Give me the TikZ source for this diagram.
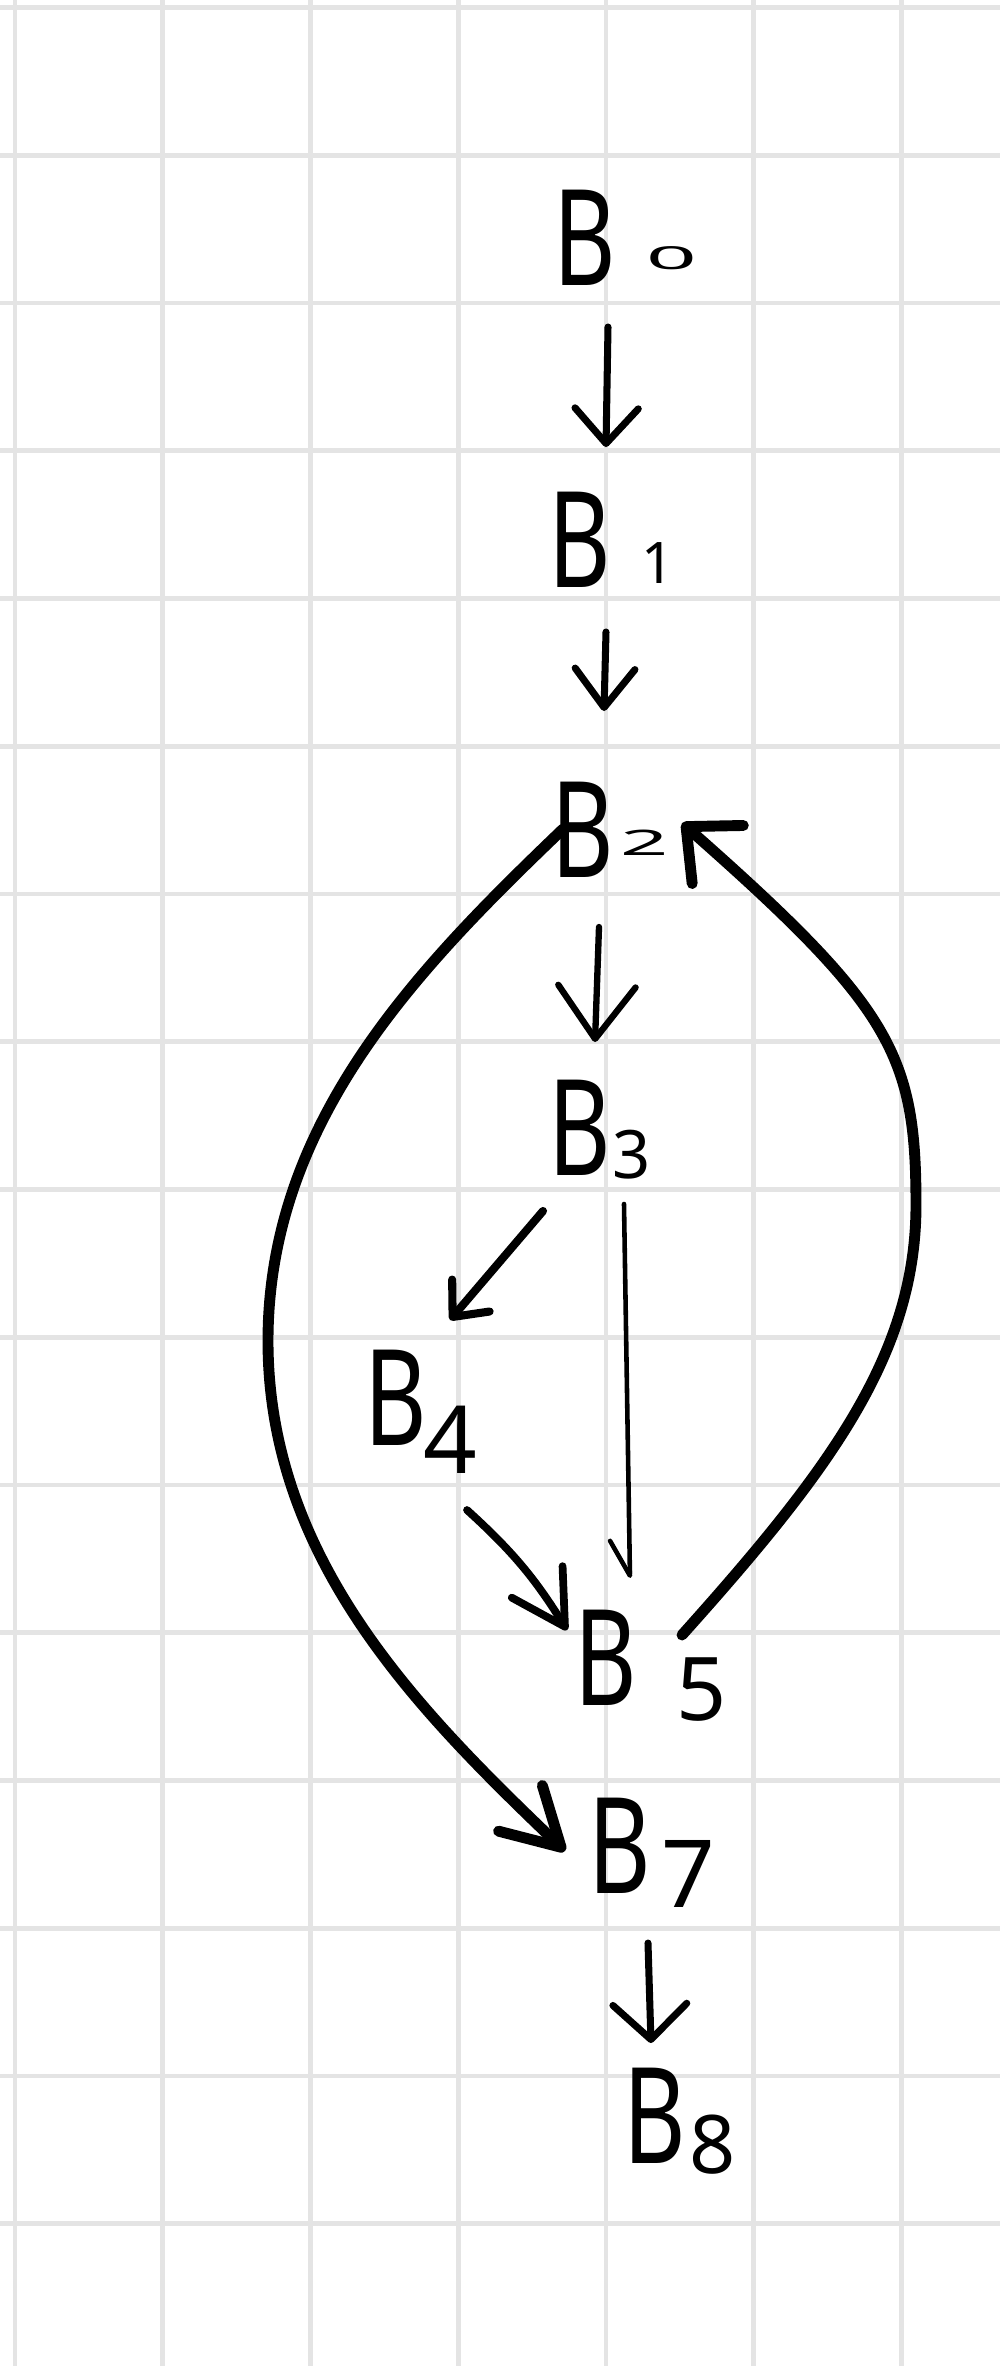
\documentclass[tikz,border=0pt]{standalone}
\usepackage{fontspec}
\usepackage{graphicx}
\setmainfont{Noto Sans}
\usetikzlibrary{arrows.meta,calc}
\definecolor{gridgray}{RGB}{228,228,228}
\newdimen\pxu \pxu=0.28453pt
% label: B + digit ; #1 digit, #2 kern (px), #3 raise (px), #4 digit size (pt)
\newcommand\lbl[4]{\scalebox{0.72}[1]{B}\kern#2\pxu\raisebox{#3\pxu}{\fontsize{#4}{#4}\selectfont #1}}
\tikzset{
  gridline/.style={draw=gridgray, line width=1.3pt},
  lab/.style={anchor=base west, inner sep=0pt, font=\fontsize{38}{40}\selectfont},
  conn/.style={line width=2pt, line cap=round, line join=round},
  bigconn/.style={line width=3.1pt, line cap=round, line join=round}
}
\begin{document}
\begin{tikzpicture}[x=0.01cm, y=-0.01cm]
\useasboundingbox (0,0) rectangle (1000,2366);
\fill[white] (0,0) rectangle (1000,2366);
% grid paper
\foreach \k in {0,...,6} {\draw[gridline] (15+147.75*\k,0) -- (15+147.75*\k,2366);}
\foreach \k in {0,...,15} {\draw[gridline] (0,7.5+147.75*\k) -- (1000,7.5+147.75*\k);}
% labels
\node[lab] (b0) at (553,285) {\lbl{\scalebox{2.1}[0.75]{0}}{30}{15}{12}};
\node[lab] (b1) at (548,587) {\lbl{1}{30}{4}{16.3}};
\node[lab] (b2) at (551,877) {\lbl{\scalebox{2.4}[1]{2}}{6}{22}{10}};
\node[lab] (b3) at (548,1175) {\lbl{3}{1}{-3}{19}};
\node[lab] (b4) at (364,1445) {\lbl{4}{-4}{-28}{26.7}};
\node[lab] (b5) at (574,1705) {\lbl{5}{39}{-15}{25}};
\node[lab] (b7) at (588,1893) {\lbl{7}{10}{-14}{26.7}};
\node[lab] (b8) at (623,2163) {\lbl{8}{3}{-10}{23}};
% straight connectors
\draw[conn, -{Straight Barb[round,length=10pt,width=18pt]}]
  ($(b0.base west)+(55,42)$) -- ($(b1.base west)+(58,-140)$);
\draw[conn, -{Straight Barb[round,length=11pt,width=17pt]}]
  ($(b1.base west)+(58,45)$) -- ($(b2.base west)+(53,-166)$);
\draw[conn, line width=1.8pt, -{Straight Barb[round,length=15pt,width=22pt]}]
  ($(b2.base west)+(48,50)$) -- ($(b3.base west)+(47,-133)$);
\draw[conn, line width=2.3pt, -{Straight Barb[round,length=8pt,width=14pt]}]
  ($(b3.base west)+(-5,36)$) -- ($(b4.base west)+(86,-125)$);
\draw[conn, line width=1.3pt, -{Straight Barb[round,right,length=10pt,width=11pt]}]
  ($(b3.base west)+(76,29)$) -- ($(b5.base west)+(56,-127)$);
\draw[conn, line width=2.2pt, -{Straight Barb[round,length=15pt,width=17pt]}]
  ($(b4.base west)+(103,65)$) to[bend left=8] ($(b5.base west)+(-7,-75)$);
\draw[conn, -{Straight Barb[round,length=10pt,width=21pt]}]
  ($(b7.base west)+(60,50)$) -- ($(b8.base west)+(28,-120)$);
% long curved connectors
\draw[bigconn, -{Straight Barb[round,length=12pt,width=22pt]}]
  ($(b5.base west)+(108,-70)$) .. controls +(147,-164) and +(0,150) ..
  ($(b5.base west)+(342,-500)$) .. controls +(0,-150) and +(210,185) ..
  ($(b2.base west)+(131,-54)$);
\draw[bigconn, -{Straight Barb[round,length=16pt,width=18pt]}]
  ($(b2.base west)+(12,-48)$) .. controls +(-144,138) and +(0,-220) ..
  ($(b2.base west)+(-283,464)$) .. controls +(0,220) and +(-144,-138) ..
  ($(b7.base west)+(-23,-42)$);
\end{tikzpicture}
\end{document}
